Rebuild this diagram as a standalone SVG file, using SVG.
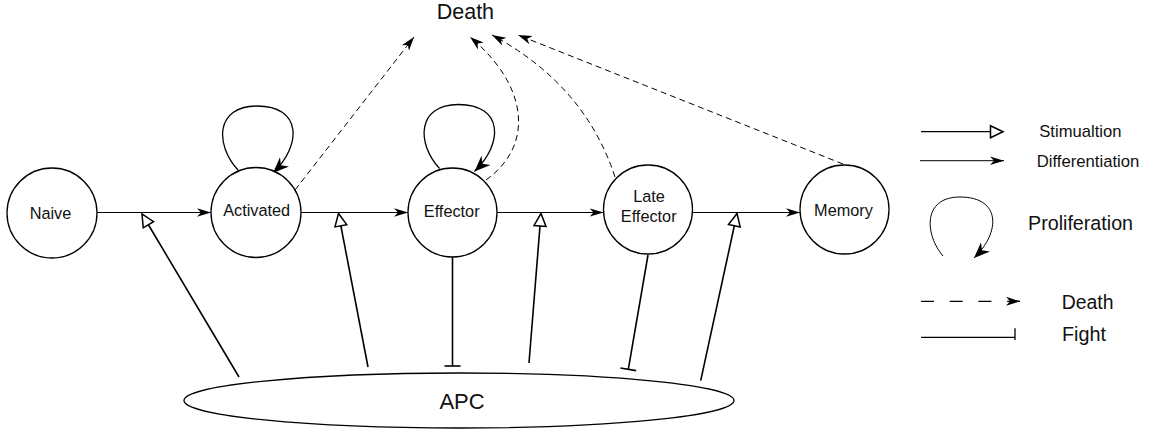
<svg xmlns="http://www.w3.org/2000/svg" width="1160" height="435" viewBox="0 0 1160 435">
<style>
.node{fill:#fff;stroke:#000;stroke-width:1.3}
.t{font-family:"Liberation Sans",Arial,sans-serif;fill:#111;text-anchor:middle}
.ts{font-family:"Liberation Sans",Arial,sans-serif;fill:#111}
.diff{fill:none;stroke:#000;stroke-width:1;marker-end:url(#mdiff)}
.stim{fill:none;stroke:#000;stroke-width:1.6;marker-end:url(#mstim)}
.fight{fill:none;stroke:#000;stroke-width:1.6;marker-end:url(#mtee)}
.loop{fill:none;stroke:#000;stroke-width:1.3;marker-end:url(#mloop)}
.death{fill:none;stroke:#000;stroke-width:1;stroke-dasharray:6 4;marker-end:url(#mdeath)}
</style>
<defs>
<marker id="mdiff" markerWidth="16" markerHeight="12" refX="14" refY="6" orient="auto" markerUnits="userSpaceOnUse"><path d="M14,6 L0,1.8 L4,6 L0,10.2 Z" fill="#000"/></marker>
<marker id="mstim" markerWidth="18" markerHeight="16" refX="15" refY="8" orient="auto" markerUnits="userSpaceOnUse" overflow="visible"><path d="M15,8 L2.5,2 L2.5,14 Z" fill="#fff" stroke="#000" stroke-width="1.5"/></marker>
<marker id="mtee" markerWidth="4" markerHeight="20" refX="2" refY="10" orient="auto" markerUnits="userSpaceOnUse"><path d="M2,2 L2,18" stroke="#000" stroke-width="1.6"/></marker>
<marker id="mloop" markerWidth="18" markerHeight="14" refX="16" refY="7" orient="auto" markerUnits="userSpaceOnUse"><path d="M16,7 L0,0.5 L5,7 L0,13.5 Z" fill="#000"/></marker>
<marker id="mdeath" markerWidth="16" markerHeight="12" refX="14" refY="6" orient="auto" markerUnits="userSpaceOnUse"><path d="M14,6 L0,1.5 L4,6 L0,10.5 Z" fill="#000"/></marker>
</defs>

<g id="connectors">
  <path class="diff" d="M97,212.5 L211,212.5"/>
  <path class="diff" d="M301,212.5 L408,212.5"/>
  <path class="diff" d="M497,212.5 L603.5,212.5"/>
  <path class="diff" d="M693,212.5 L800,212.5"/>
  <path class="stim" d="M239,377 L142,214"/>
  <path class="stim" d="M368,367 L338.5,213.5"/>
  <path class="stim" d="M529,363 L541,213.5"/>
  <path class="stim" d="M700.7,380.7 L737,213.5"/>
  <path class="fight" d="M452.5,257 L452.5,366"/>
  <path class="fight" d="M648,255 L628.3,369.3"/>
  <path class="loop" d="M238,170 C215,145 215,106 257,106 C302,106 302,145 273,173"/>
  <path class="loop" d="M439.5,168.5 C416.5,143.5 416.5,104.5 458.5,104.5 C503.5,104.5 503.5,143.5 474.5,171.5"/>
  <path class="death" d="M295,190 L414,37"/>
  <path class="death" d="M486,180 C535,145 528,85 470,37"/>
  <path class="death" d="M615,177 Q585,85 492,35"/>
  <path class="death" d="M843,164 L518,35"/>
</g>

<g id="naive"><circle class="node" cx="52" cy="213" r="45"/><text class="t" x="50.5" y="219" font-size="16.3">Naive</text></g>
<g id="activated"><circle class="node" cx="256" cy="212.5" r="45"/><text class="t" x="256.7" y="216" font-size="16.3">Activated</text></g>
<g id="effector"><circle class="node" cx="452.5" cy="212.5" r="44.5"/><text class="t" x="451.7" y="216.7" font-size="16.3">Effector</text></g>
<g id="late-effector"><circle class="node" cx="648" cy="209.5" r="44.5"/><text class="t" x="649" y="201.7" font-size="16.3">Late</text><text class="t" x="648.7" y="221.7" font-size="16.3">Effector</text></g>
<g id="memory"><circle class="node" cx="844.5" cy="209.5" r="44.5"/><text class="t" x="843.5" y="215.7" font-size="16.3">Memory</text></g>
<g id="apc"><ellipse class="node" cx="459" cy="400.5" rx="275" ry="27.5"/><text class="t" x="462" y="409" font-size="22">APC</text></g>
<g id="death"><text class="ts" x="436.7" y="18.5" font-size="21.5">Death</text></g>

<g id="legend">
  <path d="M921,131.7 L1003,131.7" fill="none" stroke="#000" stroke-width="1.3" marker-end="url(#mstim)"/>
  <text class="ts" x="1039.3" y="136.7" font-size="16.6">Stimualtion</text>
  <path d="M920,160.7 L1004,160.7" fill="none" stroke="#000" stroke-width="1" marker-end="url(#mdiff)"/>
  <text class="ts" x="1036.7" y="166.7" font-size="16.7">Differentiation</text>
  <path d="M943,256 C925,235 922,197 960,197 C1001,197 1001,232 974,258" fill="none" stroke="#000" stroke-width="1" marker-end="url(#mloop)"/>
  <text class="ts" x="1028" y="230" font-size="19.7">Proliferation</text>
  <path d="M921,301.3 L1020,301.3" fill="none" stroke="#000" stroke-width="1.3" stroke-dasharray="13 15.7" marker-end="url(#mdeath)"/>
  <text class="ts" x="1061.7" y="309" font-size="19.4">Death</text>
  <path d="M921,337.3 L1015,337.3 M1015,328.3 L1015,340" fill="none" stroke="#000" stroke-width="1.3"/>
  <text class="ts" x="1062" y="340.7" font-size="19.8">Fight</text>
</g>
</svg>
